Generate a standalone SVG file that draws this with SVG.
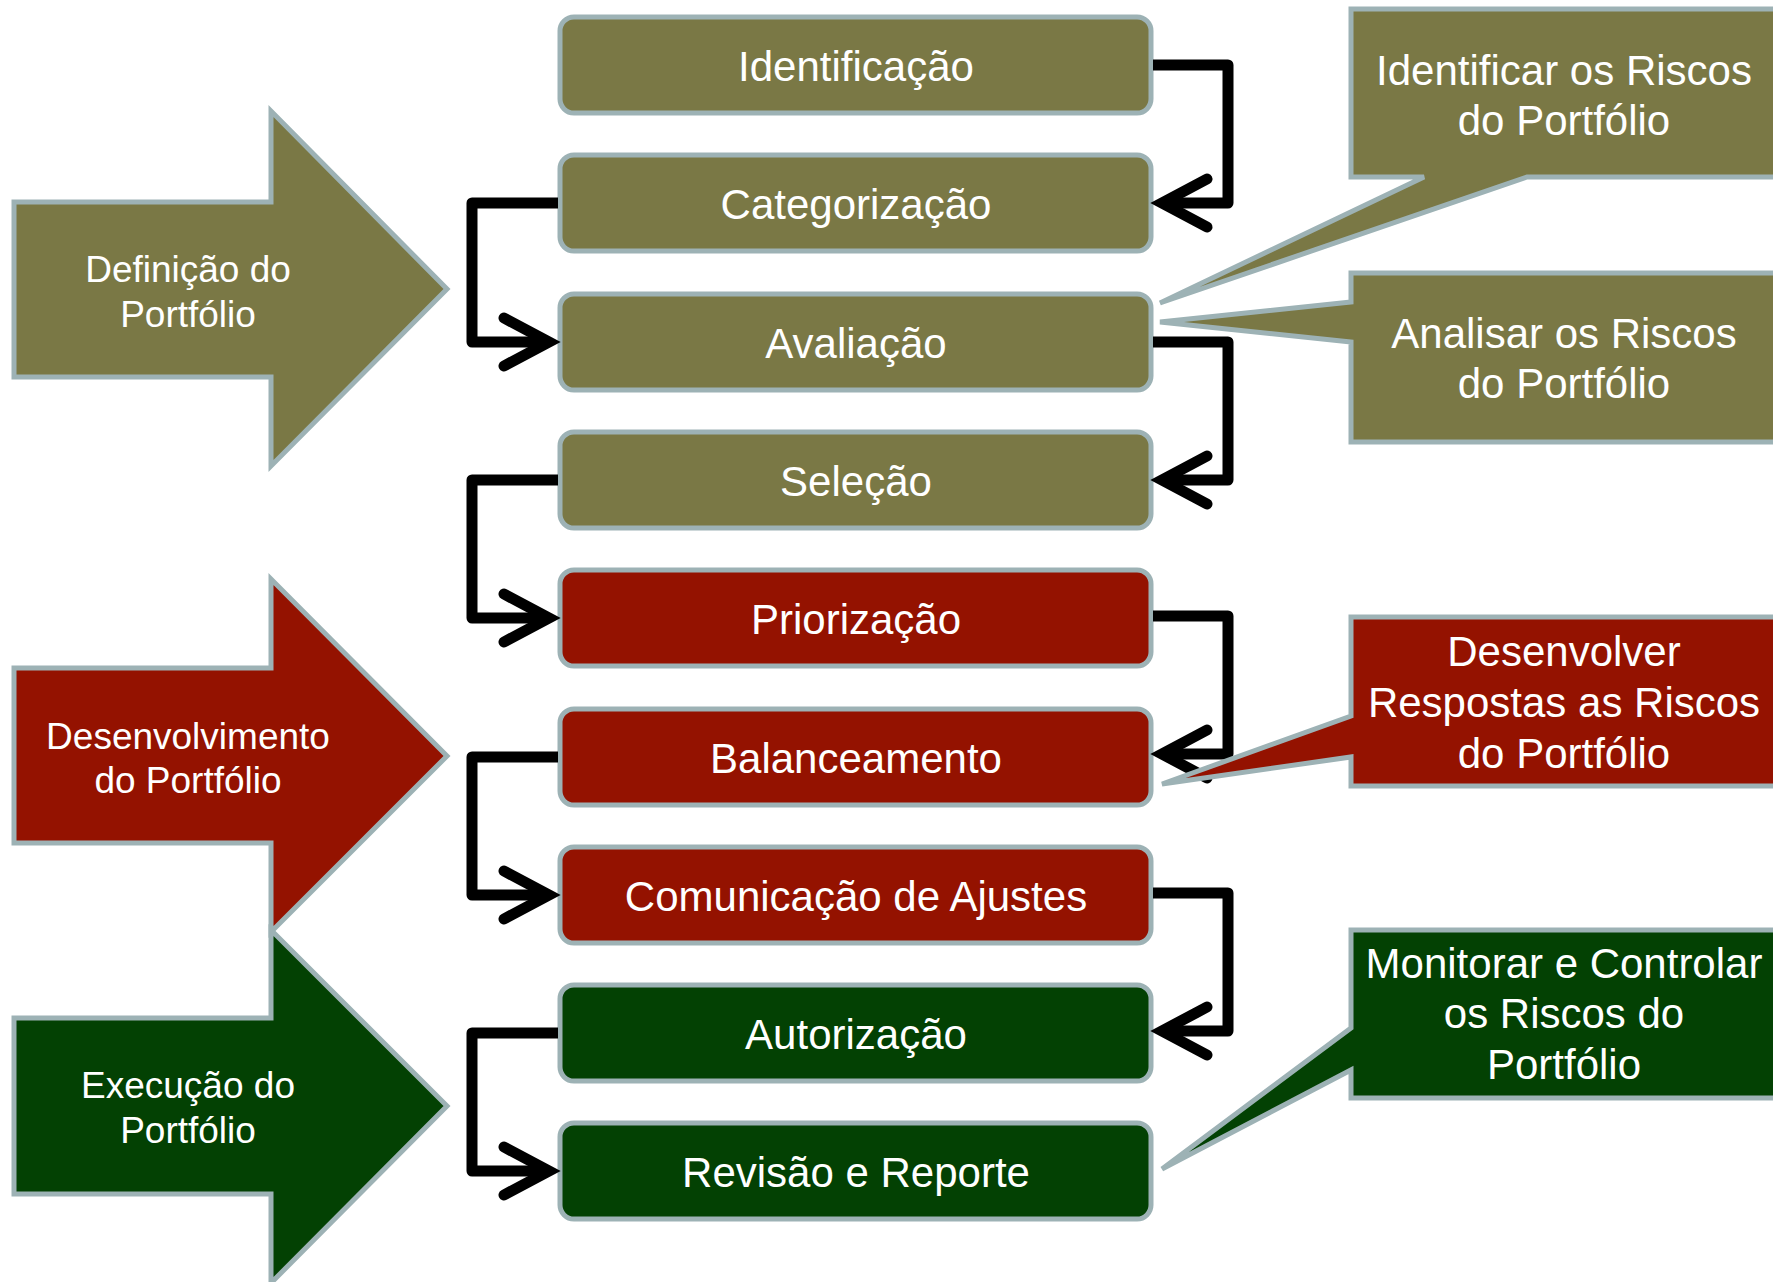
<svg xmlns="http://www.w3.org/2000/svg" width="1773" height="1282" viewBox="0 0 1773 1282">
  <style>
    .olive { fill: #7a7845; }
    .red { fill: #941200; }
    .green { fill: #034103; }
    .edge { stroke: #9db2b5; stroke-width: 5; }
    .box { stroke: #9db2b5; stroke-width: 5; }
    .lbl { font-family: "Liberation Sans", Arial, sans-serif; fill: #ffffff; text-anchor: middle; }
    .big { font-size: 42px; }
    .phase { font-size: 37px; }
    .wire { fill: none; stroke: #000000; stroke-width: 11; stroke-linejoin: round; }
    .head { fill: none; stroke: #000000; stroke-width: 11; stroke-linecap: round; stroke-linejoin: miter; stroke-miterlimit: 10; }
  </style>
  <rect width="1773" height="1282" fill="#ffffff"/>

  <!-- phase arrows -->
  <g id="phase-definicao">
    <path class="olive edge" d="M14,202 H271 V111 L447,289 L271,466 V377 H14 Z"/>
    <text class="lbl phase" x="188" y="282">Definição do</text>
    <text class="lbl phase" x="188" y="327">Portfólio</text>
  </g>
  <g id="phase-desenvolvimento">
    <path class="red edge" d="M14,668 H271 V579 L447,756 L271,932 V843 H14 Z"/>
    <text class="lbl phase" x="188" y="749">Desenvolvimento</text>
    <text class="lbl phase" x="188" y="793">do Portfólio</text>
  </g>
  <g id="phase-execucao">
    <path class="green edge" d="M14,1018 H271 V930 L447,1106 L271,1283 V1194 H14 Z"/>
    <text class="lbl phase" x="188" y="1098">Execução do</text>
    <text class="lbl phase" x="188" y="1143">Portfólio</text>
  </g>

  <!-- process steps -->
  <g id="step-identificacao">
    <rect class="olive box" x="560" y="17" width="591" height="96" rx="14"/>
    <text class="lbl big" x="856" y="81">Identificação</text>
  </g>
  <g id="step-categorizacao">
    <rect class="olive box" x="560" y="155" width="591" height="96" rx="14"/>
    <text class="lbl big" x="856" y="219">Categorização</text>
  </g>
  <g id="step-avaliacao">
    <rect class="olive box" x="560" y="294" width="591" height="96" rx="14"/>
    <text class="lbl big" x="856" y="358">Avaliação</text>
  </g>
  <g id="step-selecao">
    <rect class="olive box" x="560" y="432" width="591" height="96" rx="14"/>
    <text class="lbl big" x="856" y="496">Seleção</text>
  </g>
  <g id="step-priorizacao">
    <rect class="red box" x="560" y="570" width="591" height="96" rx="14"/>
    <text class="lbl big" x="856" y="634">Priorização</text>
  </g>
  <g id="step-balanceamento">
    <rect class="red box" x="560" y="709" width="591" height="96" rx="14"/>
    <text class="lbl big" x="856" y="773">Balanceamento</text>
  </g>
  <g id="step-comunicacao">
    <rect class="red box" x="560" y="847" width="591" height="96" rx="14"/>
    <text class="lbl big" x="856" y="911">Comunicação de Ajustes</text>
  </g>
  <g id="step-autorizacao">
    <rect class="green box" x="560" y="985" width="591" height="96" rx="14"/>
    <text class="lbl big" x="856" y="1049">Autorização</text>
  </g>
  <g id="step-revisao">
    <rect class="green box" x="560" y="1123" width="591" height="96" rx="14"/>
    <text class="lbl big" x="856" y="1187">Revisão e Reporte</text>
  </g>

  <!-- flow between steps -->
  <g id="connectors">
    <!-- right-hand loops -->
    <path class="wire" d="M1153,65 H1228 V203 H1162"/>
    <polyline class="head" points="1207,179 1162,203 1207,227"/>
    <path class="wire" d="M1153,342 H1228 V480 H1162"/>
    <polyline class="head" points="1207,456 1162,480 1207,504"/>
    <path class="wire" d="M1153,616 H1228 V754 H1162"/>
    <polyline class="head" points="1207,730 1162,754 1207,778"/>
    <path class="wire" d="M1153,893 H1228 V1031 H1162"/>
    <polyline class="head" points="1207,1007 1162,1031 1207,1055"/>
    <!-- left-hand loops -->
    <path class="wire" d="M558,203 H472 V342 H549"/>
    <polyline class="head" points="504,318 549,342 504,366"/>
    <path class="wire" d="M558,480 H472 V618 H549"/>
    <polyline class="head" points="504,594 549,618 504,642"/>
    <path class="wire" d="M558,757 H472 V895 H549"/>
    <polyline class="head" points="504,871 549,895 504,919"/>
    <path class="wire" d="M558,1033 H472 V1171 H549"/>
    <polyline class="head" points="504,1147 549,1171 504,1195"/>
  </g>

  <!-- risk callouts -->
  <g id="callout-identificar">
    <path class="olive edge" d="M1351,9 H1780 V177 H1527 L1160,303 L1424,177 H1351 Z"/>
    <text class="lbl big" x="1564" y="85">Identificar os Riscos</text>
    <text class="lbl big" x="1564" y="135">do Portfólio</text>
  </g>
  <g id="callout-analisar">
    <path class="olive edge" d="M1351,273 H1780 V442 H1351 V342 L1160,322 L1351,302 Z"/>
    <text class="lbl big" x="1564" y="348">Analisar os Riscos</text>
    <text class="lbl big" x="1564" y="398">do Portfólio</text>
  </g>
  <g id="callout-desenvolver">
    <path class="red edge" d="M1351,617 H1780 V786 H1351 V757 L1162,784 L1351,716 Z"/>
    <text class="lbl big" x="1564" y="666">Desenvolver</text>
    <text class="lbl big" x="1564" y="717">Respostas as Riscos</text>
    <text class="lbl big" x="1564" y="768">do Portfólio</text>
  </g>
  <g id="callout-monitorar">
    <path class="green edge" d="M1351,930 H1780 V1098 H1351 V1070 L1162,1169 L1351,1028 Z"/>
    <text class="lbl big" x="1564" y="978">Monitorar e Controlar</text>
    <text class="lbl big" x="1564" y="1028">os Riscos do</text>
    <text class="lbl big" x="1564" y="1079">Portfólio</text>
  </g>
</svg>
